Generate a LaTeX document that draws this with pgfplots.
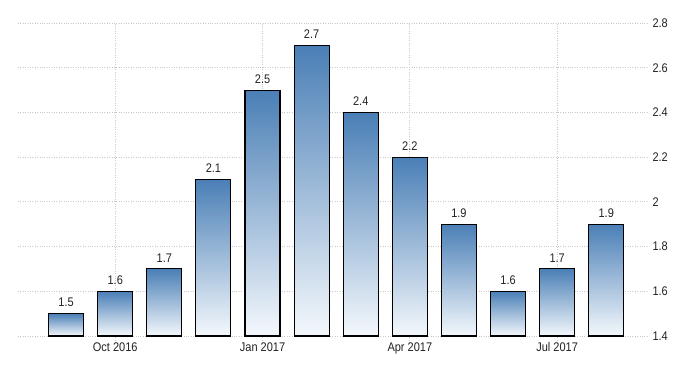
\documentclass[border=0pt]{standalone}
\usepackage{pgfplots}
\pgfplotsset{compat=1.18}
\usepackage{fontspec}
\setmainfont{Liberation Sans}[FakeStretch=0.88]
\definecolor{bartop}{HTML}{4A7FB6}
\definecolor{barbot}{HTML}{F4F8FC}
\definecolor{gridc}{HTML}{C8C8C8}
\definecolor{txt}{HTML}{222222}
\pgfplotsset{onebar/.style={ybar, bar shift=0pt, bar width=35pt, draw=black, line width=1.1pt, top color=bartop, bottom color=barbot}}
\begin{document}
\begin{tikzpicture}
\begin{axis}[
  scale only axis,
  width=630pt, height=313pt,
  xmin=-0.98, xmax=11.85,
  ymin=1.4, ymax=2.8,
  axis line style={draw=none},
  ytick={1.4,1.6,...,2.8},
  yticklabels={1.4,1.6,1.8,2,2.2,2.4,2.6,2.8},
  yticklabel pos=right,
  yticklabel style={anchor=west, xshift=1pt},
  xtick={1,4,7,10},
  xticklabels={Oct 2016,Jan 2017,Apr 2017,Jul 2017},
  xtick pos=bottom,
  tick align=outside,
  major tick length=6pt,
  x tick style={gridc, dotted, line width=0.8pt},
  y tick style={draw=none},
  yticklabel style={xshift=-6pt},
  xticklabel style={yshift=3pt},
  grid=major,
  major grid style={gridc, dotted, line width=0.8pt},
  tick label style={font=\fontsize{12.5}{14}\selectfont, text=txt},
  /pgf/number format/assume math mode=true,
  clip=false,
  nodes near coords,
  every node near coord/.append style={font=\fontsize{12.5}{14}\selectfont, text=txt, yshift=3pt},
  point meta=explicit symbolic,
]
\addplot[onebar] coordinates {(0,1.5) [1.5]};
\addplot[onebar] coordinates {(1,1.6) [1.6]};
\addplot[onebar] coordinates {(2,1.7) [1.7]};
\addplot[onebar] coordinates {(3,2.1) [2.1]};
\addplot[onebar] coordinates {(4,2.5) [2.5]};
\addplot[onebar] coordinates {(5,2.7) [2.7]};
\addplot[onebar] coordinates {(6,2.4) [2.4]};
\addplot[onebar] coordinates {(7,2.2) [2.2]};
\addplot[onebar] coordinates {(8,1.9) [1.9]};
\addplot[onebar] coordinates {(9,1.6) [1.6]};
\addplot[onebar] coordinates {(10,1.7) [1.7]};
\addplot[onebar] coordinates {(11,1.9) [1.9]};
\end{axis}
\path[use as bounding box] (-18pt,-39pt) rectangle (682pt,336pt);
\end{tikzpicture}
\end{document}
